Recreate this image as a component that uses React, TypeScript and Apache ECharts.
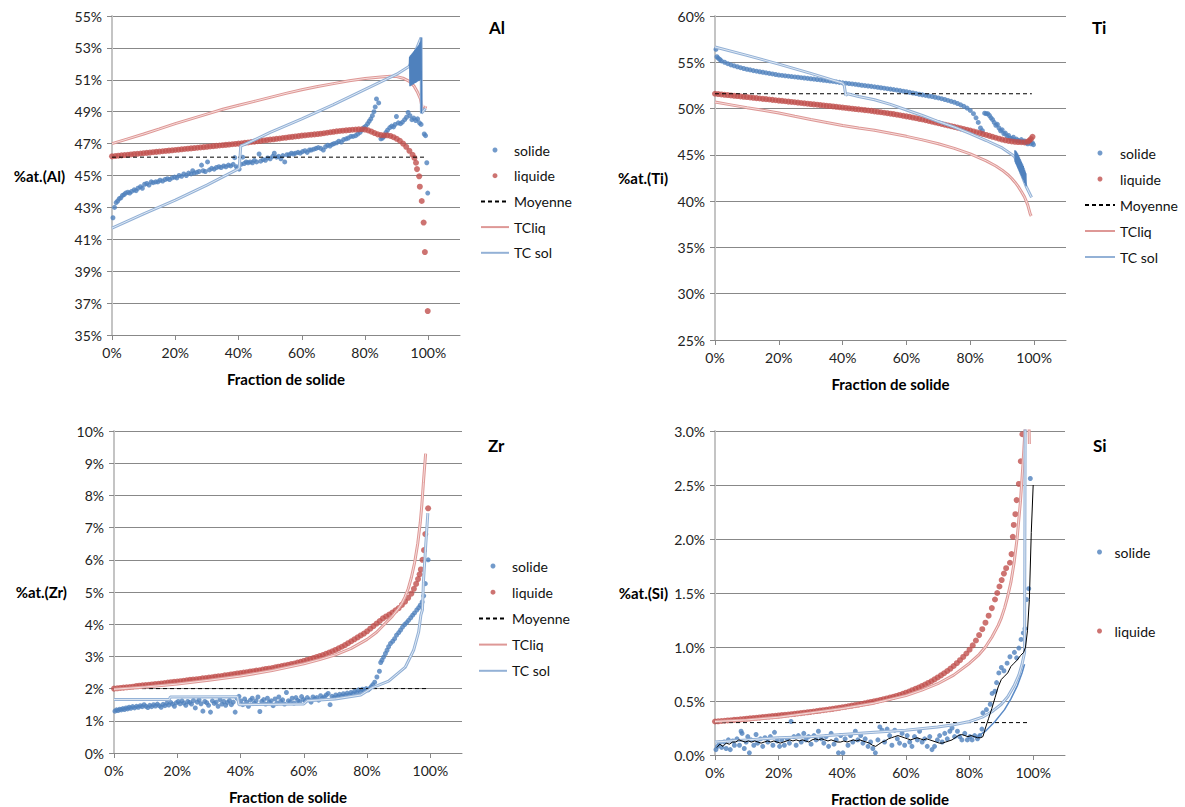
import React, { useEffect, useRef } from 'react';
import * as echarts from 'echarts';

type P = [number, number][];

// ---------- axis / tick data ----------
const xTicks = [0, 20, 40, 60, 80, 100];
const panelTitles = ['Al', 'Ti', 'Zr', 'Si'];
const yNames = ['%at.(Al)', '%at.(Ti)', '%at.(Zr)', '%at.(Si)'];
const yMin = [35, 25, 0, 0];
const yMax = [55, 60, 10, 3];
const yStep = [2, 5, 1, 0.5];
const yDecimals = [0, 0, 0, 1];
const legendFull = ['solide', 'liquide', 'Moyenne', 'TCliq', 'TC sol'];
const legendSi = ['solide', 'liquide'];

// ---------- Al ----------
const alSolide: P = [
  [0.3, 42.35], [0.8, 43.0], [1.3, 43.3], [1.8, 43.4], [2.3, 43.55], [2.8, 43.6], [3.3, 43.75], [3.8, 43.8], [4.3, 43.9], [5, 43.95],
  [5.6, 43.9], [6.2, 44.0], [7, 44.1], [7.6, 44.05], [8.2, 44.2], [9, 44.3], [9.6, 44.2], [10.3, 44.45], [11, 44.5], [11.7, 44.4],
  [12.4, 44.6], [13, 44.55], [13.8, 44.6], [14.5, 44.6], [15.2, 44.7], [16, 44.65], [16.8, 44.75], [17.5, 44.8], [18.2, 44.75], [19, 44.85],
  [19.8, 44.9], [20.5, 44.85], [21.2, 45.0], [22, 44.95], [22.7, 45.1], [23.5, 45.0], [24.2, 45.15], [25, 45.1], [25.5, 45.3], [26, 45.15],
  [26.8, 45.2], [27.5, 45.25], [28.3, 45.65], [28.8, 45.3], [29.5, 45.25], [30.2, 45.85], [30.8, 45.35], [31.5, 45.45], [32.3, 45.4], [33, 45.5],
  [33.8, 45.55], [34.5, 45.5], [35.3, 45.6], [36, 45.55], [36.8, 45.65], [37.5, 45.6], [38.3, 45.7], [38.8, 46.12], [39.3, 45.55], [39.7, 45.45],
  [40.2, 45.4], [40.8, 45.7], [41.3, 46.15], [41.8, 45.75], [42.4, 45.85], [43, 45.8], [43.7, 45.85], [44.4, 45.8], [45, 45.95], [45.7, 45.85],
  [46.5, 46.35], [47, 45.9], [47.8, 46.0], [48.5, 45.95], [49.2, 46.1], [50, 46.05], [50.8, 46.2], [51.3, 46.4], [52, 46.15], [52.7, 46.2],
  [53.4, 46.05], [54, 46.25], [54.6, 45.85], [55.3, 46.3], [56, 46.3], [56.7, 46.4], [57.4, 46.35], [58, 46.4], [58.8, 46.45], [59.5, 46.4],
  [60.2, 46.5], [61, 46.55], [61.7, 46.45], [62.4, 46.6], [63, 46.6], [63.8, 46.65], [64.5, 46.7], [65.2, 46.75], [66, 46.7], [66.8, 46.6],
  [67.5, 46.8], [68.2, 46.9], [68.9, 46.85], [69.6, 46.95], [70.2, 47.0], [71, 47.05], [71.7, 47.15], [72.5, 47.1], [73.2, 47.25], [74, 47.3],
  [74.7, 47.35], [75.5, 47.45], [76.2, 47.45], [77, 47.5], [77.7, 47.6], [78.4, 47.7], [79, 47.85], [79.6, 48.0], [80.2, 48.1], [80.8, 48.25],
  [81.3, 48.4], [81.8, 48.55], [82.3, 48.75], [82.8, 49.0], [83.2, 49.3], [83.6, 49.8], [84.3, 49.55], [85, 47.3], [85.5, 47.35], [86, 47.45],
  [86.6, 47.7], [87.1, 47.85], [87.8, 48.0], [88.4, 48.1], [89, 48.05], [89.5, 48.2], [89.9, 48.7], [90.5, 48.3], [91.2, 48.25], [91.8, 48.35],
  [92.5, 48.5], [93.1, 48.65], [93.6, 48.95], [94.2, 48.75], [94.8, 48.5], [95.4, 48.6], [96, 48.45], [96.6, 48.55], [97.2, 48.3], [97.7, 48.2],
  [98.7, 47.6], [99.1, 47.5], [99.5, 45.8], [99.8, 43.9],
];
const alLiquide: P = [
  [0, 46.2], [1, 46.22], [2, 46.24], [3, 46.26], [4, 46.28], [5, 46.3], [6, 46.32], [7, 46.34], [8, 46.36], [9, 46.38],
  [10, 46.4], [11, 46.42], [12, 46.44], [13, 46.46], [14, 46.48], [15, 46.5], [16, 46.52], [17, 46.54], [18, 46.56], [19, 46.58],
  [20, 46.6], [21, 46.62], [22, 46.64], [23, 46.66], [24, 46.68], [25, 46.7], [26, 46.72], [27, 46.74], [28, 46.76], [29, 46.78],
  [30, 46.8], [31, 46.82], [32, 46.84], [33, 46.86], [34, 46.88], [35, 46.9], [36, 46.92], [37, 46.94], [38, 46.96], [39, 46.98],
  [40, 47.0], [41, 47.02], [42, 47.05], [43, 47.07], [44, 47.1], [45, 47.12], [46, 47.15], [47, 47.17], [48, 47.2], [49, 47.22],
  [50, 47.25], [51, 47.27], [52, 47.3], [53, 47.32], [54, 47.35], [55, 47.37], [56, 47.4], [57, 47.42], [58, 47.45], [59, 47.47],
  [60, 47.5], [61, 47.52], [62, 47.54], [63, 47.56], [64, 47.58], [65, 47.6], [66, 47.62], [67, 47.65], [68, 47.68], [69, 47.71],
  [70, 47.74], [71, 47.77], [72, 47.79], [73, 47.81], [74, 47.83], [75, 47.85], [76, 47.87], [77, 47.88], [78, 47.89], [79, 47.9],
  [80, 47.88], [81, 47.83], [82, 47.75], [83, 47.66], [84, 47.58], [85, 47.53], [86, 47.52], [87, 47.52], [88, 47.48], [89, 47.4],
  [90, 47.3], [91, 47.18], [92, 47.0], [93, 46.8], [94, 46.55], [95, 46.3], [95.6, 46.1],
  [96.1, 45.8], [96.4, 45.4], [97.1, 44.95], [97.3, 44.3], [97.9, 43.4], [98.5, 42.05], [98.9, 40.2], [99.8, 36.5],
];
const alMoyenne: P = [[0, 46.15], [99.5, 46.15]];
const alTCliq: P = [
  [0, 47.0], [5, 47.3], [10, 47.6], [15, 47.92], [20, 48.25], [25, 48.55], [30, 48.85], [35, 49.15], [40, 49.4], [45, 49.65],
  [50, 49.9], [55, 50.15], [60, 50.38], [65, 50.58], [70, 50.76], [75, 50.94], [80, 51.08], [85, 51.18], [88, 51.22], [90, 51.2],
  [92, 51.1], [94, 50.9], [95.5, 50.6], [96.5, 50.25], [97.5, 49.8], [98, 49.3], [98.3, 49.05], [98.8, 49.15], [99.2, 49.35],
];
const alTCsol: P = [
  [0, 41.7], [10, 42.6], [20, 43.45], [30, 44.4], [39.8, 45.4], [40.2, 45.45], [40.7, 46.85], [42, 46.95], [50, 47.7], [60, 48.55],
  [70, 49.45], [80, 50.4], [90, 51.35], [94, 51.85], [97.7, 53.65], [97.8, 48.9], [99.1, 49.2],
];
const alTCsolBand: P = [
  [94.0, 51.85], [94.1, 52.45], [94.2, 50.6], [94.3, 52.5], [94.4, 50.62], [94.5, 52.55], [94.6, 50.65], [94.7, 52.6], [94.8, 50.68], [94.9, 52.65],
  [95.0, 50.7], [95.1, 52.7], [95.2, 50.72], [95.3, 52.75], [95.4, 50.75], [95.5, 52.8], [95.6, 50.78], [95.7, 52.85], [95.8, 50.8], [95.9, 52.9],
  [96.0, 50.82], [96.1, 52.95], [96.2, 50.85], [96.3, 53.0], [96.4, 50.88], [96.5, 53.05], [96.6, 50.9], [96.7, 53.1], [96.8, 50.92], [96.9, 53.15],
  [97.0, 50.95], [97.1, 53.2], [97.2, 50.98], [97.3, 53.3], [97.4, 51.0], [97.5, 53.4], [97.6, 51.0], [97.7, 53.65], [97.8, 48.9],
];

// ---------- Ti ----------
const tiSolide: P = [
  [0.3, 56.4], [0.6, 55.6], [1, 55.45], [1.5, 55.3], [2, 55.15], [3, 55.0], [4, 54.85], [5, 54.72], [6, 54.62], [7, 54.52],
  [8, 54.42], [9, 54.33], [10, 54.25], [11, 54.18], [12, 54.1], [13, 54.04], [14, 53.98], [15, 53.92], [16, 53.86], [17, 53.8],
  [18, 53.74], [19, 53.68], [20, 53.62], [21, 53.58], [22, 53.54], [23, 53.5], [24, 53.46], [25, 53.42], [26, 53.38], [27, 53.34],
  [28, 53.3], [29, 53.26], [30, 53.22], [31, 53.18], [32, 53.14], [33, 53.1], [34, 53.06], [35, 53.02], [36, 52.98], [37, 52.93],
  [38, 52.88], [39, 52.83], [40, 52.78], [41, 52.74], [42, 52.7], [43, 52.66], [44, 52.62], [45, 52.57], [46, 52.52], [47, 52.48],
  [48, 52.44], [49, 52.4], [50, 52.35], [51, 52.3], [52, 52.25], [53, 52.2], [54, 52.15], [55, 52.1], [56, 52.05], [57, 52.0],
  [58, 51.94], [59, 51.88], [60, 51.82], [61, 51.75], [62, 51.68], [63, 51.62], [64, 51.55], [65, 51.48], [66, 51.42], [67, 51.36],
  [68, 51.3], [69, 51.22], [70, 51.15], [71, 51.07], [72, 50.98], [73, 50.88], [74, 50.78], [75, 50.68], [76, 50.55], [77, 50.4],
  [78, 50.24], [79, 50.05], [80, 49.8], [81, 49.45], [81.8, 49.0], [82.5, 48.5], [83.2, 47.9], [83.8, 47.6],
  [84.5, 49.5], [85, 49.45], [85.5, 49.45], [86, 49.25], [86.5, 49.0], [87, 48.8], [87.5, 48.5], [88, 48.2], [88.5, 48.3], [89, 47.9],
  [89.5, 47.6], [90, 47.7], [90.5, 47.3], [91, 47.35], [91.5, 47.0], [92, 47.1], [92.5, 46.8], [93, 46.75], [93.5, 46.9], [94, 46.6],
  [94.5, 46.7], [95, 46.55], [95.5, 46.45], [96, 46.65], [96.5, 46.4], [97, 46.5], [97.5, 46.3], [98, 46.2], [98.5, 46.4], [99, 46.2],
  [99.5, 46.3], [99.8, 46.1],
];
const tiLiquide: P = [
  [0, 51.6], [1, 51.57], [2, 51.53], [3, 51.49], [4, 51.46], [5, 51.42], [6, 51.38], [7, 51.35], [8, 51.31], [9, 51.27],
  [10, 51.24], [11, 51.2], [12, 51.16], [13, 51.13], [14, 51.09], [15, 51.05], [16, 51.02], [17, 50.98], [18, 50.94], [19, 50.9],
  [20, 50.86], [21, 50.83], [22, 50.79], [23, 50.75], [24, 50.72], [25, 50.68], [26, 50.64], [27, 50.6], [28, 50.57], [29, 50.53],
  [30, 50.49], [31, 50.45], [32, 50.42], [33, 50.38], [34, 50.34], [35, 50.3], [36, 50.27], [37, 50.23], [38, 50.19], [39, 50.15],
  [40, 50.11], [41, 50.07], [42, 50.03], [43, 49.99], [44, 49.95], [45, 49.91], [46, 49.87], [47, 49.83], [48, 49.79], [49, 49.75],
  [50, 49.7], [51, 49.65], [52, 49.6], [53, 49.55], [54, 49.5], [55, 49.45], [56, 49.4], [57, 49.34], [58, 49.28], [59, 49.22],
  [60, 49.16], [61, 49.1], [62, 49.03], [63, 48.96], [64, 48.89], [65, 48.82], [66, 48.74], [67, 48.66], [68, 48.58], [69, 48.5],
  [70, 48.42], [71, 48.34], [72, 48.26], [73, 48.18], [74, 48.1], [75, 48.02], [76, 47.94], [77, 47.86], [78, 47.78], [79, 47.7],
  [80, 47.62], [81, 47.53], [82, 47.44], [83, 47.35], [84, 47.25], [85, 47.15], [86, 47.05], [87, 46.95], [88, 46.85], [89, 46.75],
  [90, 46.65], [91, 46.57], [92, 46.5], [93, 46.45], [94, 46.41], [95, 46.38], [96, 46.36], [97, 46.35], [98, 46.42], [98.5, 46.55],
  [99, 46.7], [99.5, 46.95],
];
const tiMoyenne: P = [[0, 51.6], [99.3, 51.6]];
const tiTCliq: P = [
  [0, 50.7], [5, 50.4], [10, 50.1], [15, 49.82], [20, 49.53], [25, 49.17], [30, 48.82], [35, 48.5], [40, 48.17], [45, 47.9],
  [50, 47.65], [55, 47.33], [60, 47.0], [65, 46.62], [70, 46.2], [75, 45.7], [80, 45.1], [85, 44.35], [88, 43.8], [90, 43.35],
  [92, 42.8], [93, 42.45], [94, 42.05], [95, 41.6], [96, 41.05], [97, 40.45], [98, 39.6], [98.8, 38.6], [99.1, 38.4],
];
const tiTCsol: P = [
  [0, 56.65], [10, 55.75], [20, 54.8], [30, 53.8], [40, 52.75], [40.5, 52.5], [41, 51.4], [41.5, 51.6], [45, 51.3], [50, 50.95],
  [55, 50.45], [60, 49.85], [65, 49.25], [70, 48.6], [75, 48.0], [80, 47.3], [85, 46.55], [90, 45.75], [93, 45.05], [93.9, 44.8],
  [97.5, 41.6], [99.2, 40.4],
];
const tiTCsolBand: P = [
  [94.0, 45.5], [94.1, 44.2], [94.2, 45.45], [94.3, 44.05], [94.4, 45.35], [94.5, 43.9], [94.6, 45.25], [94.7, 43.75], [94.8, 45.15], [94.9, 43.6],
  [95.0, 45.0], [95.1, 43.45], [95.2, 44.85], [95.3, 43.3], [95.4, 44.7], [95.5, 43.15], [95.6, 44.55], [95.7, 43.0], [95.8, 44.4], [95.9, 42.85],
  [96.0, 44.25], [96.1, 42.7], [96.2, 44.1], [96.3, 42.55], [96.4, 43.95], [96.5, 42.4], [96.6, 43.8], [96.7, 42.25], [96.8, 43.6], [96.9, 42.1],
  [97.0, 43.4], [97.1, 41.95], [97.2, 43.2], [97.3, 41.8], [97.4, 43.0], [97.5, 41.6],
];

// ---------- Zr ----------
const zrSolide: P = [
  [0.3, 1.3], [0.8, 1.34], [1.3, 1.32], [1.8, 1.36], [2.3, 1.34], [2.8, 1.38], [3.3, 1.35], [3.8, 1.4], [4.3, 1.37], [4.8, 1.42],
  [5.3, 1.39], [5.9, 1.44], [6.5, 1.4], [7.1, 1.45], [7.7, 1.42], [8.3, 1.47], [8.9, 1.44], [9.5, 1.5], [10.1, 1.45], [10.7, 1.41],
  [11.3, 1.48], [11.9, 1.44], [12.5, 1.5], [13.1, 1.46], [13.7, 1.52], [14.3, 1.47], [14.9, 1.42], [15.5, 1.51], [16.1, 1.47], [16.7, 1.55],
  [17.3, 1.49], [17.9, 1.57], [18.5, 1.52], [19.1, 1.45], [19.7, 1.56], [20.3, 1.6], [20.9, 1.53], [21.5, 1.62], [22.1, 1.55], [22.7, 1.48],
  [23.3, 1.6], [23.9, 1.57], [24.5, 1.52], [25.1, 1.63], [25.7, 1.4], [26.3, 1.58], [26.9, 1.65], [27.5, 1.53], [28.1, 1.3], [28.7, 1.6],
  [29.3, 1.56], [29.9, 1.48], [30.5, 1.27], [31.1, 1.62], [31.7, 1.54], [32.3, 1.58], [32.9, 1.45], [33.5, 1.66], [34.1, 1.52], [34.7, 1.6],
  [35.3, 1.48], [35.9, 1.57], [36.5, 1.63], [37.1, 1.5], [37.7, 1.58], [38.3, 1.27], [38.9, 1.7], [39.5, 1.76], [40.1, 1.62], [40.7, 1.5],
  [41.3, 1.68], [41.9, 1.58], [42.5, 1.45], [43.1, 1.64], [43.7, 1.7], [44.3, 1.55], [44.9, 1.62], [45.5, 1.74], [46.1, 1.29], [46.7, 1.6],
  [47.3, 1.66], [47.9, 1.52], [48.5, 1.7], [49.1, 1.58], [49.7, 1.62], [50.3, 1.47], [50.9, 1.68], [51.5, 1.55], [52.1, 1.74], [52.7, 1.6],
  [53.3, 1.65], [53.9, 1.52], [54.5, 1.88], [55.1, 1.62], [55.7, 1.58], [56.3, 1.7], [56.9, 1.55], [57.5, 1.72], [58.1, 1.63], [58.7, 1.6],
  [59.3, 1.75], [59.9, 1.66], [60.5, 1.62], [61.1, 1.72], [61.7, 1.65], [62.3, 1.58], [62.9, 1.74], [63.5, 1.68], [64.1, 1.72], [64.7, 1.64],
  [65.3, 1.78], [65.9, 1.7], [66.5, 1.74], [67.1, 1.8], [67.7, 1.85], [68.3, 1.5], [68.9, 1.76], [69.5, 1.72], [70.1, 1.8], [70.7, 1.75],
  [71.3, 1.82], [71.9, 1.77], [72.5, 1.84], [73.1, 1.79], [73.7, 1.86], [74.3, 1.8], [74.9, 1.88], [75.5, 1.84], [76.1, 1.92], [76.7, 1.87],
  [77.3, 1.96], [77.9, 1.9], [78.5, 1.98], [79.1, 1.93], [79.7, 2.0], [80.3, 1.96], [80.8, 2.0], [81.3, 2.06], [81.8, 2.12], [82.4, 2.2],
  [83.1, 2.36], [83.9, 2.54], [84.3, 2.81], [84.7, 2.88], [85.2, 2.98], [85.8, 3.09], [86.3, 3.19], [86.8, 3.3], [87.4, 3.4], [88.1, 3.47],
  [88.7, 3.55], [89.3, 3.66], [90, 3.74], [90.6, 3.82], [91.2, 3.91], [91.9, 3.99], [92.5, 4.05], [93.1, 4.12], [93.8, 4.2], [94.4, 4.28],
  [95, 4.35], [95.7, 4.44], [96.3, 4.51], [96.8, 4.59], [97.4, 4.69], [97.9, 4.88], [98.4, 5.26], [99.3, 6.0],
];
const zrLiquide: P = [
  [0, 2.0], [1, 2.01], [2, 2.02], [3, 2.03], [4, 2.04], [5, 2.05], [6, 2.06], [7, 2.08], [8, 2.09], [9, 2.1],
  [10, 2.11], [11, 2.12], [12, 2.13], [13, 2.14], [14, 2.15], [15, 2.16], [16, 2.17], [17, 2.19], [18, 2.2], [19, 2.21],
  [20, 2.22], [21, 2.23], [22, 2.24], [23, 2.26], [24, 2.27], [25, 2.28], [26, 2.29], [27, 2.3], [28, 2.32], [29, 2.33],
  [30, 2.34], [31, 2.35], [32, 2.37], [33, 2.38], [34, 2.39], [35, 2.41], [36, 2.42], [37, 2.44], [38, 2.45], [39, 2.47],
  [40, 2.48], [41, 2.5], [42, 2.51], [43, 2.53], [44, 2.54], [45, 2.56], [46, 2.57], [47, 2.59], [48, 2.61], [49, 2.62],
  [50, 2.64], [51, 2.66], [52, 2.68], [53, 2.7], [54, 2.72], [55, 2.74], [56, 2.76], [57, 2.78], [58, 2.81], [59, 2.83],
  [60, 2.86], [61, 2.89], [62, 2.92], [63, 2.95], [64, 2.98], [65, 3.01], [66, 3.04], [67, 3.08], [68, 3.12], [69, 3.16],
  [70, 3.2], [71, 3.25], [72, 3.3], [73, 3.35], [74, 3.41], [75, 3.47], [76, 3.53], [77, 3.59], [78, 3.65], [79, 3.71],
  [80, 3.78], [81, 3.86], [82, 3.94], [83, 4.02], [84, 4.1], [85, 4.18], [86, 4.24], [87, 4.3], [88, 4.36], [89, 4.43],
  [90, 4.5], [91, 4.6], [92, 4.7], [93, 4.82], [94, 4.95], [94.8, 5.1], [95.5, 5.25], [96.1, 5.4], [96.6, 5.55], [97, 5.7],
  [97.5, 6.0], [98, 6.3], [98.4, 6.8], [99.3, 7.6],
];
const zrMoyenne: P = [[0, 2.0], [99.5, 2.0]];
const zrTCliq: P = [
  [0, 1.98], [10, 2.05], [20, 2.14], [30, 2.26], [40, 2.39], [50, 2.56], [60, 2.77], [65, 2.9], [70, 3.05], [75, 3.25],
  [80, 3.53], [83, 3.75], [85, 3.95], [88, 4.25], [90, 4.5], [91, 4.65], [92, 4.85], [93, 5.1], [94, 5.45], [95, 5.9],
  [96, 6.5], [96.8, 7.15], [97.3, 7.7], [97.8, 8.4], [98.5, 9.3],
];
const zrTCsol: P = [
  [0, 1.66], [17.5, 1.66], [17.8, 1.74], [39, 1.75], [39.5, 1.5], [60, 1.52], [61, 1.62], [70, 1.68], [78, 1.8], [81.5, 2.02],
  [86.8, 2.23], [92.1, 2.67], [94.7, 3.19], [96.3, 3.76], [97, 4.28], [97.5, 4.45], [97.8, 5.3], [98.5, 6.4], [99.2, 7.45],
];

// ---------- Si ----------
const siSolide: P = [
  [0.3, 0.05], [0.8, 0.08], [1.4, 0.11], [2.1, 0.07], [2.9, 0.12], [3.5, 0.06], [4.2, 0.14], [4.8, 0.05], [5.6, 0.13], [6.1, 0.09],
  [6.9, 0.15], [7.7, 0.09], [8.2, 0.22], [8.5, 0.2], [9.2, 0.06], [9.8, 0.12], [10.3, 0.17], [10.8, 0.02], [11.3, 0.14], [12.2, 0.09],
  [12.9, 0.19], [13.4, 0.11], [14.3, 0.15], [15.0, 0.08], [15.7, 0.16], [16.6, 0.12], [17.4, 0.17], [18.2, 0.09], [18.7, 0.21], [19.5, 0.13],
  [20.3, 0.08], [21.0, 0.14], [21.8, 0.09], [22.7, 0.15], [23.4, 0.11], [23.9, 0.31], [24.8, 0.17], [25.5, 0.09], [26.2, 0.18], [27.1, 0.12],
  [27.9, 0.2], [28.6, 0.14], [29.4, 0.17], [30.2, 0.1], [31.1, 0.18], [31.8, 0.14], [32.5, 0.22], [33.4, 0.15], [34.2, 0.11], [34.9, 0.17],
  [35.7, 0.08], [36.5, 0.2], [37.4, 0.1], [38.1, 0.14], [38.8, 0.02], [39.5, 0.18], [40.2, 0.02], [40.9, 0.15], [41.8, 0.09], [42.6, 0.18],
  [43.3, 0.12], [44.1, 0.22], [44.9, 0.14], [45.8, 0.18], [46.5, 0.11], [47.2, 0.15], [48.1, 0.08], [48.9, 0.12], [49.6, 0.06], [50.4, 0.02],
  [51.2, 0.14], [51.8, 0.26], [52.5, 0.23], [53.3, 0.12], [54.1, 0.24], [54.9, 0.18], [55.6, 0.09], [56.5, 0.23], [57.3, 0.15], [58.0, 0.11],
  [58.8, 0.2], [59.6, 0.09], [60.4, 0.18], [61.2, 0.12], [61.9, 0.08], [62.7, 0.17], [63.6, 0.14], [64.3, 0.22], [65.1, 0.12], [65.9, 0.15],
  [66.7, 0.08], [67.5, 0.17], [68.2, 0.05], [69.0, 0.08], [69.9, 0.14], [70.6, 0.18], [71.4, 0.12], [72.2, 0.2], [73.0, 0.15], [73.8, 0.22],
  [74.5, 0.25], [75.3, 0.17], [76.2, 0.22], [76.9, 0.17], [77.6, 0.14], [78.5, 0.2], [79.3, 0.14], [80.1, 0.17], [80.8, 0.14], [81.6, 0.18],
  [82.5, 0.15], [83.2, 0.18], [83.9, 0.24], [84.2, 0.39], [85.3, 0.42], [86.5, 0.47], [87.1, 0.57], [88.0, 0.59], [88.5, 0.67], [89.2, 0.76],
  [90.0, 0.81], [90.8, 0.78], [91.8, 0.85], [92.7, 0.91], [94.1, 0.95], [94.8, 0.9], [95.5, 0.99], [96.2, 1.07], [96.9, 1.13], [97.4, 1.17],
  [97.9, 1.44], [98.6, 1.54], [99.1, 2.56],
];
const siLiquide: P = [
  [0, 0.31], [1, 0.312], [2, 0.315], [3, 0.317], [4, 0.32], [5, 0.322], [6, 0.325], [7, 0.327], [8, 0.33], [9, 0.333],
  [10, 0.336], [11, 0.339], [12, 0.342], [13, 0.345], [14, 0.348], [15, 0.351], [16, 0.354], [17, 0.357], [18, 0.36], [19, 0.363],
  [20, 0.366], [21, 0.369], [22, 0.372], [23, 0.375], [24, 0.378], [25, 0.381], [26, 0.385], [27, 0.388], [28, 0.392], [29, 0.395],
  [30, 0.399], [31, 0.403], [32, 0.407], [33, 0.411], [34, 0.415], [35, 0.419], [36, 0.423], [37, 0.427], [38, 0.432], [39, 0.437],
  [40, 0.442], [41, 0.447], [42, 0.452], [43, 0.457], [44, 0.462], [45, 0.467], [46, 0.473], [47, 0.479], [48, 0.485], [49, 0.491],
  [50, 0.497], [51, 0.503], [52, 0.51], [53, 0.517], [54, 0.524], [55, 0.531], [56, 0.539], [57, 0.547], [58, 0.556], [59, 0.566],
  [60, 0.577], [61, 0.588], [62, 0.6], [63, 0.612], [64, 0.625], [65, 0.638], [66, 0.652], [67, 0.667], [68, 0.683], [69, 0.7],
  [70, 0.718], [71, 0.737], [72, 0.757], [73, 0.778], [74, 0.8], [75, 0.824], [76, 0.85], [77, 0.878], [78, 0.908], [79, 0.94],
  [80, 0.975], [81, 1.015], [82, 1.06], [83, 1.11], [84, 1.165], [85, 1.225], [86, 1.29], [87, 1.36], [88, 1.44], [88.7, 1.5],
  [89.4, 1.56], [90.1, 1.62], [90.8, 1.68], [91.5, 1.73], [92.7, 1.78], [93.2, 1.86], [93.6, 2.02], [93.9, 2.13], [94.4, 2.23], [94.8, 2.36],
  [95.5, 2.51], [96.1, 2.72], [96.6, 2.97],
];
const siMoyenne: P = [[0, 0.3], [99, 0.3]];
const siTCliq: P = [
  [0, 0.31], [10, 0.325], [20, 0.35], [30, 0.39], [40, 0.43], [50, 0.48], [60, 0.55], [65, 0.6], [70, 0.66], [75, 0.74],
  [80, 0.85], [83, 0.93], [85, 1.0], [87, 1.09], [89, 1.2], [90, 1.27], [91, 1.36], [92, 1.47], [93, 1.6], [94, 1.78],
  [95, 2.02], [96, 2.35], [96.8, 2.7], [97.4, 3.0], [97.8, 3.4], [98.5, 3.4], [98.8, 2.88],
];
const siTCsol: P = [
  [0, 0.12], [10, 0.14], [20, 0.16], [30, 0.17], [40, 0.19], [50, 0.21], [60, 0.23], [70, 0.26], [75, 0.28], [80, 0.31],
  [84, 0.35], [87, 0.4], [90, 0.47], [92, 0.54], [94, 0.64], [95.5, 0.74], [96.5, 0.84], [97.3, 0.95], [97.5, 3.3],
];
const siTCsol2: P = [
  [82, 0.16], [85, 0.22], [88, 0.31], [91, 0.42], [93, 0.52], [95, 0.64], [96.5, 0.76], [97.3, 0.84],
];
const siMoyMobile: P = [
  [0.6, 0.07], [1.5, 0.1], [2.5, 0.08], [3.5, 0.11], [4.5, 0.1], [5.5, 0.12], [6.5, 0.12], [7.5, 0.14], [8.5, 0.13], [9.5, 0.12],
  [10.5, 0.13], [11.5, 0.12], [12.5, 0.13], [13.5, 0.12], [14.5, 0.11], [15.5, 0.12], [16.5, 0.13], [17.5, 0.12], [18.5, 0.13], [19.5, 0.12],
  [20.5, 0.11], [21.5, 0.12], [22.5, 0.13], [23.5, 0.14], [24.5, 0.13], [25.5, 0.14], [26.5, 0.13], [27.5, 0.14], [28.5, 0.13], [29.5, 0.12],
  [30.5, 0.14], [31.5, 0.15], [32.5, 0.14], [33.5, 0.15], [34.5, 0.14], [35.5, 0.13], [36.5, 0.14], [37.5, 0.13], [38.5, 0.12], [39.5, 0.12],
  [40.5, 0.13], [41.5, 0.12], [42.5, 0.13], [43.5, 0.14], [44.5, 0.13], [45.5, 0.14], [46.5, 0.13], [47.5, 0.12], [48.5, 0.11], [49.5, 0.09],
  [50.5, 0.08], [51.5, 0.1], [52.5, 0.12], [53.5, 0.13], [54.5, 0.15], [55.5, 0.16], [56.5, 0.17], [57.5, 0.18], [58.5, 0.17], [59.5, 0.16],
  [60.5, 0.15], [61.5, 0.14], [62.5, 0.15], [63.5, 0.16], [64.5, 0.15], [65.5, 0.14], [66.5, 0.15], [67.5, 0.14], [68.5, 0.13], [69.5, 0.12],
  [70.5, 0.11], [71.5, 0.11], [72.5, 0.12], [73.5, 0.13], [74.5, 0.14], [75.5, 0.16], [76.5, 0.18], [77.5, 0.19], [78.5, 0.18], [79.5, 0.17],
  [80.5, 0.18], [81.5, 0.17], [82.5, 0.16], [83.5, 0.16], [84.2, 0.17], [85, 0.25], [86, 0.34], [87, 0.43], [88, 0.53], [89, 0.63],
  [90, 0.7], [91, 0.73], [92, 0.76], [93, 0.82], [94, 0.85], [95, 0.88], [96, 0.92], [97, 0.95], [97.6, 1.0], [98.2, 1.15],
  [98.8, 1.44], [99.4, 2.06], [100, 2.5],
];

// ---------- styling / layout ----------
const FONT = 'Lato, "Liberation Sans", sans-serif';
const BLUE = '#4F81BD';
const RED = '#C0504D';
const GRID_COLOR = '#888888';

const panelData = [
  { solide: alSolide, liquide: alLiquide, moy: alMoyenne, tcliq: alTCliq, tcsol: alTCsol, band: alTCsolBand },
  { solide: tiSolide, liquide: tiLiquide, moy: tiMoyenne, tcliq: tiTCliq, tcsol: tiTCsol, band: tiTCsolBand },
  { solide: zrSolide, liquide: zrLiquide, moy: zrMoyenne, tcliq: zrTCliq, tcsol: zrTCsol, band: null as P | null },
  { solide: siSolide, liquide: siLiquide, moy: siMoyenne, tcliq: siTCliq, tcsol: siTCsol, band: null as P | null },
];

const grids = [
  { left: 112, top: 16, width: 348, height: 319 },
  { left: 715, top: 16, width: 351, height: 324 },
  { left: 114, top: 431, width: 348, height: 322 },
  { left: 715, top: 431, width: 350, height: 324 },
];

const legendPos = [
  { left: 480, top: 142, itemWidth: 28, itemGap: 9.7, data: legendFull },
  { left: 1084, top: 145, itemWidth: 30, itemGap: 10, data: legendFull },
  { left: 478, top: 558, itemWidth: 28, itemGap: 10.2, data: legendFull },
  { left: 1097, top: 544, itemWidth: 20, itemGap: 63, data: legendSi },
];

const titlePos = [
  { left: 489, top: 19 },
  { left: 1092, top: 19 },
  { left: 488, top: 437 },
  { left: 1093, top: 437 },
];

const lineNames = ['Moyenne', 'TCliq', 'TC sol'];

function buildOption() {
  const series: any[] = [];
  panelData.forEach((d, i) => {
    const off = yMin[i];
    const m = (arr: P) => arr.map(([x, y]) => [x, y - off]);
    const ax = { xAxisIndex: i, yAxisIndex: i };
    series.push({ ...ax, name: 'solide', type: 'scatter', data: m(d.solide), symbolSize: 5, itemStyle: { color: BLUE }, z: 2 });
    series.push({ ...ax, name: 'liquide', type: 'scatter', data: m(d.liquide), symbolSize: 6, itemStyle: { color: RED }, z: 2 });
    series.push({ ...ax, name: 'Moyenne', type: 'line', data: m(d.moy), symbol: 'none', lineStyle: { color: '#000', width: 1, type: [4, 3] }, itemStyle: { color: '#000' }, z: 3 });
    series.push({ ...ax, name: 'TCliq', type: 'line', data: m(d.tcliq), symbol: 'none', lineStyle: { color: '#DE9896', width: 3 }, itemStyle: { color: '#DE9896' }, z: 4 });
    series.push({ ...ax, name: 'TCliq', type: 'line', data: m(d.tcliq), symbol: 'none', lineStyle: { color: '#F6DEDD', width: 1 }, itemStyle: { color: '#F6DEDD' }, z: 4 });
    series.push({ ...ax, name: 'TC sol', type: 'line', data: m(d.tcsol), symbol: 'none', lineStyle: { color: '#93B1D6', width: 3 }, itemStyle: { color: '#93B1D6' }, z: 5 });
    series.push({ ...ax, name: 'TC sol', type: 'line', data: m(d.tcsol), symbol: 'none', lineStyle: { color: '#E0E9F4', width: 1 }, itemStyle: { color: '#E0E9F4' }, z: 5 });
    if (d.band) {
      series.push({ ...ax, name: 'TC sol (oscillation)', type: 'line', data: m(d.band), symbol: 'none', lineStyle: { color: '#4F81BD', width: 1.5 }, z: 5 });
    }
    if (i === 3) {
      series.push({ ...ax, name: 'TC sol 2', type: 'line', data: m(siTCsol2), symbol: 'none', lineStyle: { color: '#5A8AC6', width: 1.5 }, z: 5 });
      series.push({ ...ax, name: 'Moyenne mobile', type: 'line', data: m(siMoyMobile), symbol: 'none', lineStyle: { color: '#000', width: 1 }, z: 6 });
    }
  });

  const labelStyle = { fontFamily: FONT, fontSize: 14, color: '#222' };
  const nameStyle = { fontFamily: FONT, fontSize: 15, fontWeight: 'bold', color: '#000' };

  return {
    animation: false,
    backgroundColor: '#fff',
    textStyle: { fontFamily: FONT },
    title: panelTitles.map((t, i) => ({
      text: t, left: titlePos[i].left, top: titlePos[i].top, padding: 0,
      textStyle: { fontFamily: FONT, fontSize: 17, fontWeight: 'bold', color: '#000' },
    })),
    legend: legendPos.map((l) => ({
      data: l.data.map((n) => (lineNames.includes(n) ? { name: n, itemStyle: { opacity: 0 } } : { name: n })),
      left: l.left, top: l.top, orient: 'vertical', padding: 0,
      itemWidth: l.itemWidth, itemHeight: 5, itemGap: l.itemGap, selectedMode: false,
      textStyle: { fontFamily: FONT, fontSize: 14, color: '#111', lineHeight: 16 },
    })),
    grid: grids.map((g) => ({ ...g, containLabel: false })),
    xAxis: grids.map((g, i) => ({
      gridIndex: i, type: 'value', min: 0, max: 110, interval: 20,
      name: 'Fraction de solide', nameLocation: 'middle', nameGap: 36,
      nameTextStyle: nameStyle,
      axisLine: { show: true, onZero: false, lineStyle: { color: GRID_COLOR, width: 1 } },
      axisTick: { show: true, length: 5, customValues: xTicks, lineStyle: { color: GRID_COLOR } },
      axisLabel: { ...labelStyle, margin: 10, customValues: xTicks, formatter: (v: number) => (v > 100 ? '' : v + '%') },
      splitLine: { show: false },
    })),
    yAxis: grids.map((g, i) => ({
      gridIndex: i, type: 'value', min: 0, max: yMax[i] - yMin[i], interval: yStep[i],
      name: yNames[i], nameLocation: 'middle', nameRotate: 0, nameGap: 47,
      nameTextStyle: nameStyle,
      axisLine: { show: true, lineStyle: { color: '#C4C4C4', width: 2 } },
      axisTick: { show: true, length: 5, lineStyle: { color: GRID_COLOR } },
      axisLabel: { ...labelStyle, margin: 10, formatter: (v: number) => (v + yMin[i]).toFixed(yDecimals[i]) + '%' },
      splitLine: { show: true, lineStyle: { color: GRID_COLOR, width: 1 } },
    })),
    series,
  };
}

export default function App() {
  const ref = useRef<HTMLDivElement>(null);
  useEffect(() => {
    if (!ref.current) return;
    const chart = echarts.init(ref.current, null, { renderer: 'svg' });
    chart.setOption(buildOption() as any);
    return () => chart.dispose();
  }, []);
  return (
    <div
      ref={ref}
      style={{ position: 'absolute', left: 0, top: 0, width: 1185, height: 807, background: '#fff' }}
    />
  );
}
